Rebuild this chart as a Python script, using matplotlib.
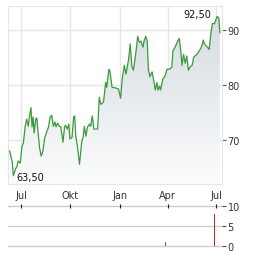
import numpy as np
import pandas as pd
import matplotlib
matplotlib.use("Agg")
import matplotlib.pyplot as plt
import matplotlib.dates as mdates
from matplotlib.colors import LinearSegmentedColormap

# kursverlauf
datum = ["2024-06-09", "2024-06-14", "2024-06-16", "2024-06-20", "2024-06-23", "2024-06-25",
         "2024-06-29", "2024-07-02", "2024-07-05", "2024-07-08", "2024-07-11", "2024-07-14",
         "2024-07-16", "2024-07-19", "2024-07-21", "2024-07-23", "2024-07-25", "2024-07-28",
         "2024-07-30", "2024-08-02", "2024-08-04", "2024-08-07", "2024-08-10", "2024-08-14",
         "2024-08-18", "2024-08-21", "2024-08-24", "2024-08-27", "2024-08-30", "2024-09-02",
         "2024-09-04", "2024-09-07", "2024-09-10", "2024-09-13", "2024-09-17", "2024-09-20",
         "2024-09-22", "2024-09-25", "2024-09-28", "2024-09-30", "2024-10-04", "2024-10-07",
         "2024-10-09", "2024-10-11", "2024-10-14", "2024-10-18", "2024-10-22", "2024-10-25",
         "2024-10-27", "2024-10-30", "2024-11-02", "2024-11-06", "2024-11-08", "2024-11-11",
         "2024-11-14", "2024-11-21", "2024-11-24", "2024-11-27", "2024-12-02", "2024-12-06",
         "2024-12-08", "2024-12-12", "2024-12-14", "2024-12-18", "2024-12-24", "2024-12-30",
         "2025-01-03", "2025-01-06", "2025-01-10", "2025-01-13", "2025-01-18", "2025-01-21",
         "2025-01-24", "2025-01-27", "2025-02-01", "2025-02-04", "2025-02-07", "2025-02-10",
         "2025-02-14", "2025-02-16", "2025-02-19", "2025-02-22", "2025-02-24", "2025-02-27",
         "2025-03-03", "2025-03-06", "2025-03-09", "2025-03-12", "2025-03-14", "2025-03-17",
         "2025-03-19", "2025-03-23", "2025-03-27", "2025-03-31", "2025-04-05", "2025-04-09",
         "2025-04-11", "2025-04-15", "2025-04-20", "2025-04-23", "2025-04-26", "2025-04-28",
         "2025-05-01", "2025-05-04", "2025-05-07", "2025-05-10", "2025-05-13", "2025-05-17",
         "2025-05-20", "2025-05-26", "2025-05-29", "2025-06-01", "2025-06-04", "2025-06-07",
         "2025-06-09", "2025-06-13", "2025-06-18", "2025-06-21", "2025-06-24", "2025-06-28",
         "2025-07-01", "2025-07-03", "2025-07-06", "2025-07-08"]
kurs = [68.0, 66.0, 63.5, 64.7, 65.3, 66.2,
        65.8, 68.7, 69.6, 72.4, 73.8, 72.5,
        74.2, 75.9, 72.4, 74.2, 71.3, 73.8,
        74.0, 70.7, 68.7, 67.1, 67.8, 70.5,
        71.6, 72.4, 74.2, 74.5, 72.5, 73.3,
        72.4, 73.1, 72.5, 72.4, 69.6, 72.4,
        72.7, 72.0, 72.9, 70.2, 70.5, 74.2,
        74.4, 70.7, 68.9, 65.6, 69.6, 70.7,
        72.5, 70.7, 72.4, 72.9, 72.5, 74.4,
        72.0, 72.0, 77.8, 76.5, 76.9, 80.5,
        79.6, 82.9, 82.5, 79.6, 79.5, 79.3,
        77.6, 81.1, 83.6, 82.0, 84.7, 87.5,
        83.5, 82.7, 86.2, 88.9, 87.8, 88.0,
        86.9, 88.0, 88.9, 88.0, 82.9, 81.5,
        82.4, 80.9, 79.1, 80.5, 79.1, 79.8,
        79.1, 81.1, 81.6, 82.9, 82.9, 83.3,
        86.2, 86.9, 88.0, 88.5, 86.0, 83.6,
        85.6, 84.0, 85.3, 82.7, 83.3, 83.6,
        85.1, 85.6, 86.0, 86.5, 87.1, 88.2,
        87.5, 87.1, 86.5, 89.3, 91.2, 91.2,
        92.0, 92.5, 92.2, 89.5]

# umsatz (unteres panel)
umsatz_datum = ["2025-03-28", "2025-06-28"]
umsatz = [0.9, 8.0]
umsatz_farbe = ["#2e8b2e", "#cc2222"]

monate = ["2024-07-01", "2024-10-01", "2025-01-01", "2025-04-01", "2025-07-01"]
monat_labels = ["Jul", "Okt", "Jan", "Apr", "Jul"]

x = pd.to_datetime(datum)
y = np.array(kurs)
ticks = pd.to_datetime(monate)
x0, x1 = pd.Timestamp("2024-06-06"), pd.Timestamp("2025-07-12")
ymin, ymax = 62.0, 94.4

fig = plt.figure(figsize=(2.64, 2.55), dpi=100)
ax = fig.add_axes([8/264, 1-185/255, 214/264, 178/255])
ax2 = fig.add_axes([8/264, 1-247/255, 214/264, 40/255])

grid = "#e6e6e6"
txt = "#333333"

# gradient-flaeche unter der linie
cmap = LinearSegmentedColormap.from_list("g", ["#fbfcfc", "#d3dae1"])
poly = ax.fill_between(x, y, ymin, color="none", lw=0)
grad = np.linspace(0, 1, 256).reshape(-1, 1)
im = ax.imshow(grad, cmap=cmap, origin="lower", aspect="auto",
               extent=[mdates.date2num(x0), mdates.date2num(x1), ymin, ymax], zorder=1)
im.set_clip_path(poly.get_paths()[0], transform=ax.transData)

ax.plot(x, y, color="#3c9a3c", lw=0.9, zorder=3)

ax.set_xlim(x0, x1)
ax.set_ylim(ymin, ymax)
ax.set_xticks(ticks)
ax.set_xticklabels(monat_labels)
ax.set_yticks([70, 80, 90])
ax.grid(True, color=grid, lw=1)
ax.set_axisbelow(True)
for s in ax.spines.values():
    s.set_color(grid)
ax.yaxis.tick_right()
ax.tick_params(axis="x", length=0, pad=4, labelsize=7, colors=txt)
ax.tick_params(axis="y", length=3, width=0.8, pad=1, labelsize=7, colors="#555555", labelcolor=txt)

# min / max beschriftung
i_max = int(np.argmax(y))
i_min = int(np.argmin(y))
ax.annotate(f"{y[i_max]:.2f}".replace(".", ","), (x[i_max], y[i_max]), xytext=(-4, 2),
            textcoords="offset points", ha="right", va="center", fontsize=7, color="#111111")
ax.annotate(f"{y[i_min]:.2f}".replace(".", ","), (x[i_min], y[i_min]), xytext=(2, -1),
            textcoords="offset points", ha="left", va="center", fontsize=7, color="#111111")

# unteres panel
for lvl in [0, 5, 10]:
    ax2.axhline(lvl, color="#cccccc", lw=1, clip_on=False, zorder=0)
ax2.bar(pd.to_datetime(umsatz_datum), umsatz, width=0.8, color=umsatz_farbe, zorder=2)
ax2.set_xlim(x0, x1)
ax2.set_ylim(0, 10)
ax2.set_yticks([0, 5, 10])
ax2.yaxis.tick_right()
for s in ax2.spines.values():
    s.set_visible(False)
ax2.set_xticks(ticks)
ax2.tick_params(axis="x", top=True, bottom=False, labeltop=False, labelbottom=False,
                length=3, width=0.8, direction="inout", color="#222222")
ax2.tick_params(axis="y", length=3, width=0.8, pad=1, labelsize=7, colors="#555555", labelcolor=txt)

fig.savefig("out.png", dpi=100)
